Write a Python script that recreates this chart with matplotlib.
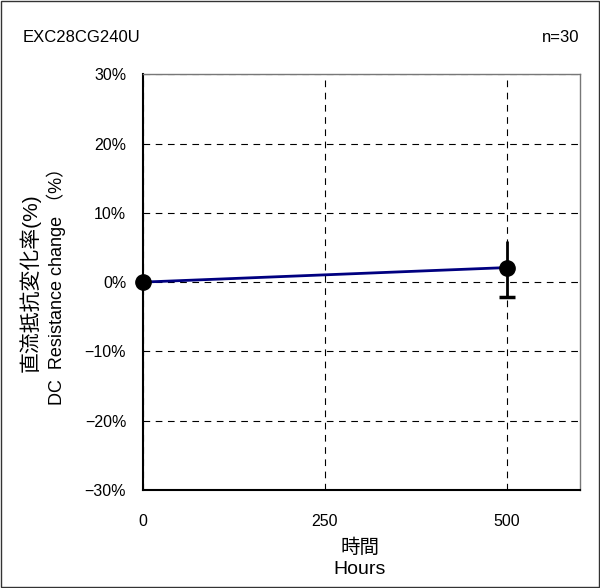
import matplotlib
matplotlib.use("Agg")
import matplotlib.pyplot as plt
from matplotlib.patches import Rectangle

plt.rcParams['font.family'] = ['Liberation Sans', 'Noto Sans CJK JP', 'DejaVu Sans']

# data
hours = [0, 500]
mean_change = [0.0, 2.1]
min_change = [0.0, -2.2]
max_change = [0.0, 5.9]

x_ticks = [0, 250, 500]
y_ticks = [-30, -20, -10, 0, 10, 20, 30]
y_tick_labels = [f"{v}%".replace('-', '\u2212') for v in y_ticks]

part_name = "EXC28CG240U"
sample_text = "n=30"
ylabel_jp = "直流抵抗変化率(%)"
ylabel_en = "DC  Resistance change （%）"
xlabel_jp = "時間"
xlabel_en = "Hours"

fig = plt.figure(figsize=(6, 5.88), dpi=100)
ax = fig.add_axes([0.238, 0.1667, 0.728, 0.707])

ax.plot(hours, mean_change, color='#000080', lw=2, zorder=3)
lower = [m - lo for m, lo in zip(mean_change, min_change)]
upper = [hi - m for m, hi in zip(mean_change, max_change)]
ax.errorbar(hours, mean_change, yerr=[lower, upper], fmt='none', ecolor='black',
            elinewidth=2, capsize=0, zorder=4)
# only the lower end carries a cap
ax.plot(hours[1:], min_change[1:], marker='_', ms=11, mew=2.5, color='black',
        ls='none', zorder=4)
ax.plot(hours, mean_change, 'o', color='black', ms=11, zorder=5, clip_on=False)

ax.set_xlim(0, 600)
ax.set_ylim(-30, 30)
ax.set_xticks(x_ticks)
ax.set_yticks(y_ticks)
ax.set_yticklabels(y_tick_labels)
ax.tick_params(axis='both', length=0, labelsize=11.5)
ax.tick_params(axis='y', pad=12)
ax.tick_params(axis='x', pad=17)
ax.grid(True, color='black', lw=0.8, ls=(0, (6, 5)))
ax.set_axisbelow(True)

for s in ['left', 'bottom']:
    ax.spines[s].set_linewidth(1.5)
    ax.spines[s].set_color('black')
for s in ['top', 'right']:
    ax.spines[s].set_linewidth(1)
    ax.spines[s].set_color('#777777')

fig.text(0.037, 0.937, part_name, fontsize=12, ha='left', va='center')
fig.text(0.965, 0.937, sample_text, fontsize=12, ha='right', va='center')

fig.text(0.05, 0.52, ylabel_jp, rotation=90, fontsize=15, ha='center', va='center')
fig.text(0.093, 0.52, ylabel_en, rotation=90, fontsize=13, ha='center', va='center')

fig.text(0.6, 0.068, xlabel_jp, fontsize=14, ha='center', va='center')
fig.text(0.6, 0.031, xlabel_en, fontsize=14, ha='center', va='center')

fig.patches.append(Rectangle((0.002, 0.002), 0.996, 0.996, transform=fig.transFigure,
                             fill=False, edgecolor='#333333', lw=1))

fig.savefig("out.png", dpi=100)
